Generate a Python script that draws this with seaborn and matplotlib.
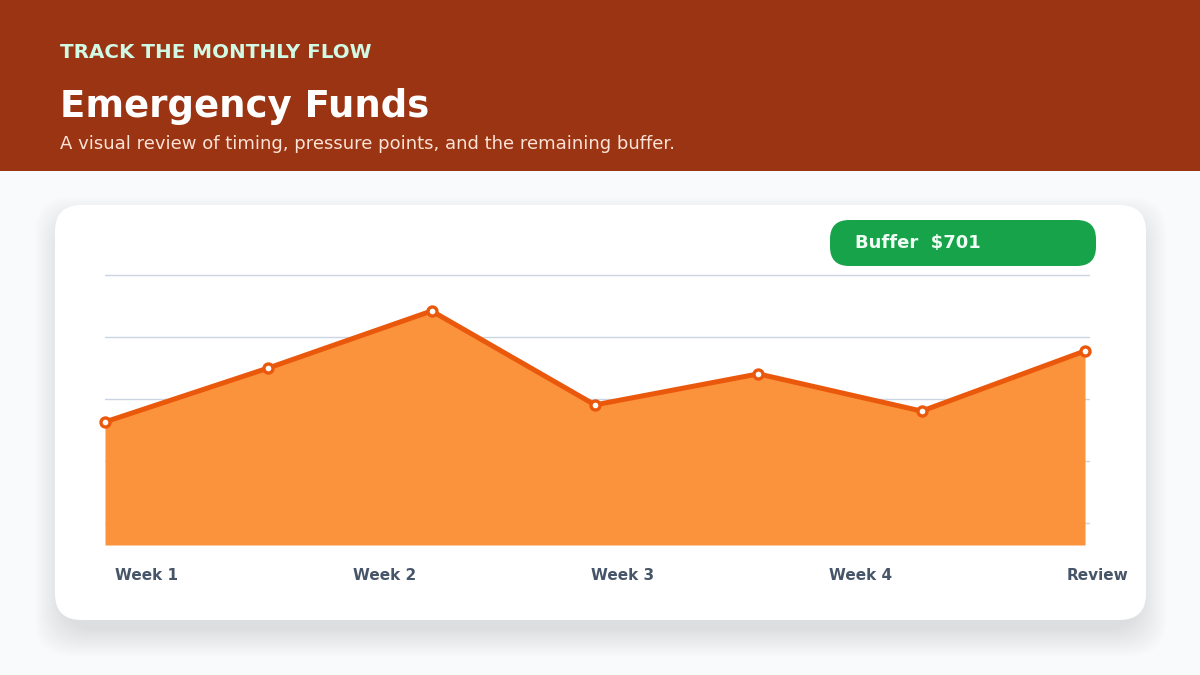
import numpy as np
import pandas as pd
import seaborn as sns
from matplotlib import pyplot as plt
from matplotlib.patches import FancyBboxPatch, Rectangle

# chart data
points = ["P1", "P2", "P3", "P4", "P5", "P6", "P7"]
balance = [726, 900, 1084, 781, 881, 761, 955]
week_labels = ["Week 1", "Week 2", "Week 3", "Week 4", "Review"]
grid_values = [400, 600, 800, 1000, 1200]
buffer_amount = 701

sns.set_theme(style="white")
plt.rcParams['font.family'] = ['DejaVu Sans']

fig = plt.figure(figsize=(12, 6.75), dpi=100)
fig.patch.set_facecolor("#F8FAFC")

W, H = 1200, 675


def fx(px):
    return px / W


def fy(py):
    return 1 - py / H


# header band
fig.patches.append(Rectangle((0, fy(171)), 1, 171 / H, transform=fig.transFigure,
                             facecolor="#9A3412", edgecolor="none", zorder=0))
fig.text(fx(60), fy(53), "TRACK THE MONTHLY FLOW", color="#D1FAE5", fontsize=14.3,
         fontweight="bold", va="center", ha="left")
fig.text(fx(60), fy(117), "Emergency Funds", color="white", fontsize=26.7,
         fontweight="bold", va="baseline", ha="left")
fig.text(fx(60), fy(149), "A visual review of timing, pressure points, and the remaining buffer.",
         color="#FCE3D6", fontsize=12.95, va="baseline", ha="left")

# card shadow + card (soft, pushed down)
for i in range(14):
    grow = i * 2.0
    fig.patches.append(FancyBboxPatch(
        (fx(55 - grow + 6), fy(620 + grow + 10)), (1091 + 2 * grow - 12) / W, (415 + 2 * grow - 8) / H,
        boxstyle="round,pad=0,rounding_size=0.03", transform=fig.transFigure,
        facecolor="#0F172A", edgecolor="none", alpha=0.009, zorder=1,
        mutation_aspect=W / H))
fig.patches.append(FancyBboxPatch(
    (fx(55), fy(620)), 1091 / W, 415 / H,
    boxstyle="round,pad=0,rounding_size=0.022", transform=fig.transFigure,
    facecolor="white", edgecolor="none", zorder=2, mutation_aspect=W / H))

# buffer pill
fig.patches.append(FancyBboxPatch(
    (fx(830), fy(266)), 266 / W, 46 / H,
    boxstyle="round,pad=0,rounding_size=0.016", transform=fig.transFigure,
    facecolor="#16A34A", edgecolor="none", zorder=3, mutation_aspect=W / H))
fig.text(fx(855), fy(243), f"Buffer  ${buffer_amount}", color="#F0FDF4", fontsize=13,
         fontweight="bold", va="center", ha="left", zorder=4)

# plot area
px_per_unit = 62 / 200
ax = fig.add_axes([fx(105), fy(545), (1090 - 105) / W, (545 - 262) / H], zorder=5)
ax.set_facecolor("none")

df = pd.DataFrame({"x": np.arange(len(points)), "balance": balance})
y_bottom = 400 - 22 / px_per_unit
y_top = 1200 + 13 / px_per_unit

for g in grid_values:
    ax.axhline(g, color="#CBD5E1", lw=1, zorder=0)

ax.fill_between(df["x"], y_bottom, df["balance"], color="#FB923C", lw=0, zorder=1)
sns.lineplot(data=df, x="x", y="balance", ax=ax, color="#EA580C", lw=3.6,
             marker="o", markersize=6.5, markerfacecolor="white",
             markeredgecolor="#EA580C", markeredgewidth=2.4, zorder=3, clip_on=False)

ax.set_xlim(0, len(points) - 1 + 5 / 163.33)
ax.set_ylim(y_bottom, y_top)
ax.set_yticks([])
ax.set_xlabel("")
ax.set_ylabel("")
for s in ax.spines.values():
    s.set_visible(False)

step = 238 / 163.33
tick_pos = [10 / 163.33 + i * step for i in range(len(week_labels))]
ax.set_xticks(tick_pos)
ax.set_xticklabels(week_labels, ha="left", fontsize=11, fontweight="bold", color="#475569")
ax.tick_params(axis="x", length=0, pad=16.5)

fig.savefig("out.png", dpi=100, facecolor=fig.get_facecolor())
